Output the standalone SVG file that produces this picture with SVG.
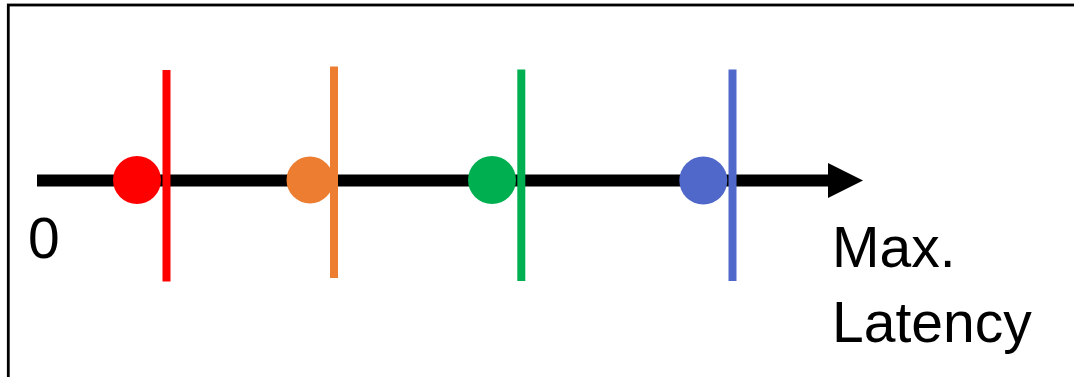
<svg xmlns="http://www.w3.org/2000/svg" width="1074" height="377" viewBox="0 0 1074 377">
<style>
.lbl{font-family:"Liberation Sans",Arial,sans-serif;font-size:57px;fill:#000}
.tick{stroke-width:8}
</style>
<rect x="0" y="0" width="1074" height="377" fill="#fff"/>
<rect x="8.3" y="5" width="1080" height="400" fill="none" stroke="#000" stroke-width="2.8"/>
<g id="connectors">
<line x1="37" y1="180.5" x2="830" y2="180.5" stroke="#000" stroke-width="12"/>
<polygon points="828,163 863,180.5 828,198" fill="#000"/>
</g>
<g id="red"><circle cx="137" cy="180" r="24" fill="#FF0000"/><line class="tick" x1="166.5" y1="70" x2="166.5" y2="281.5" stroke="#FF0000"/></g>
<g id="orange"><circle cx="310" cy="180" r="23.5" fill="#ED7D31"/><line class="tick" x1="334" y1="66.5" x2="334" y2="278" stroke="#ED7D31"/></g>
<g id="green"><circle cx="492" cy="180" r="24" fill="#00B050"/><line class="tick" x1="521.3" y1="69.5" x2="521.3" y2="281" stroke="#00B050"/></g>
<g id="blue"><circle cx="703.3" cy="180.5" r="24" fill="#4F68CA"/><line class="tick" x1="732.5" y1="69.5" x2="732.5" y2="281" stroke="#4F68CA"/></g>
<g id="labels">
<text class="lbl" x="28" y="258">0</text>
<text class="lbl" x="832" y="267">Max.</text>
<text class="lbl" x="832" y="342">Latency</text>
</g>
</svg>
